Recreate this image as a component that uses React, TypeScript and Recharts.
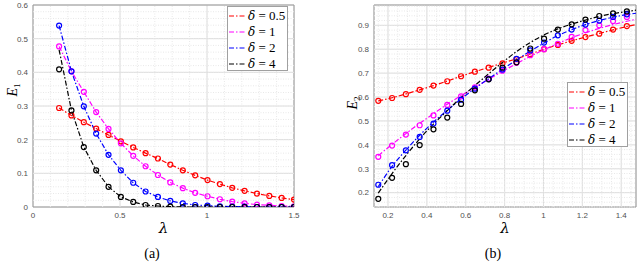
import React from 'react';
import { LineChart, Line, XAxis, YAxis, CartesianGrid, ReferenceLine, ReferenceArea } from 'recharts';

// lambda values of the simulated points (same grid in both panels)
const LAMBDA = [0.15, 0.221, 0.292, 0.363, 0.434, 0.505, 0.576, 0.647, 0.718, 0.789, 0.861, 0.932, 1.003, 1.074, 1.145, 1.216, 1.287, 1.358, 1.429, 1.5];

const DELTAS = ['0.5', '1', '2', '4'];
const COLORS = ['#ff0000', '#ff00ff', '#0000ff', '#000000'];

// panel (a): E1
const E1_PTS_05 = [0.294, 0.272, 0.252, 0.233, 0.214, 0.195, 0.177, 0.160, 0.144, 0.126, 0.109, 0.094, 0.080, 0.068, 0.057, 0.048, 0.040, 0.033, 0.027, 0.022];
const E1_PTS_1 = [0.477, 0.403, 0.342, 0.282, 0.232, 0.189, 0.152, 0.121, 0.095, 0.073, 0.056, 0.042, 0.032, 0.023, 0.016, 0.011, 0.007, 0.005, 0.003, 0.002];
const E1_PTS_2 = [0.539, 0.403, 0.299, 0.218, 0.155, 0.109, 0.072, 0.046, 0.030, 0.018, 0.011, 0.006, 0.004, 0.002, 0.001, 0.001, 0, 0, 0, 0];
const E1_PTS_4 = [0.409, 0.287, 0.178, 0.109, 0.060, 0.030, 0.015, 0.006, 0.003, 0.001, 0, 0, 0, 0, 0, 0, 0, 0, 0, 0];
const E1_FIT_05 = E1_PTS_05;
const E1_FIT_1 = E1_PTS_1;
const E1_FIT_2 = E1_PTS_2;
const E1_FIT_4 = [0.467, 0.287, 0.178, 0.109, 0.060, 0.030, 0.015, 0.006, 0.003, 0.001, 0, 0, 0, 0, 0, 0, 0, 0, 0, 0];

// panel (b): E2 (last simulated point lies outside the axes)
const E2_PTS_05 = [0.584, 0.596, 0.612, 0.630, 0.648, 0.666, 0.687, 0.706, 0.723, 0.741, 0.758, 0.779, 0.800, 0.818, 0.835, 0.851, 0.865, 0.882, 0.897, null];
const E2_PTS_1 = [0.350, 0.397, 0.443, 0.482, 0.523, 0.567, 0.603, 0.640, 0.677, 0.710, 0.743, 0.775, 0.800, 0.823, 0.852, 0.880, 0.900, 0.918, 0.935, null];
const E2_PTS_2 = [0.233, 0.315, 0.377, 0.433, 0.489, 0.543, 0.589, 0.635, 0.675, 0.715, 0.760, 0.795, 0.828, 0.858, 0.882, 0.903, 0.920, 0.935, 0.946, null];
const E2_PTS_4 = [0.174, 0.262, 0.319, 0.399, 0.465, 0.514, 0.571, 0.628, 0.674, 0.723, 0.745, 0.803, 0.844, 0.882, 0.904, 0.924, 0.939, 0.950, 0.958, null];
const E2_FIT_05 = [0.584, 0.597, 0.613, 0.630, 0.648, 0.667, 0.687, 0.706, 0.724, 0.742, 0.760, 0.780, 0.800, 0.818, 0.835, 0.851, 0.866, 0.881, 0.895, 0.907];
const E2_FIT_1 = [0.355, 0.402, 0.447, 0.490, 0.530, 0.570, 0.606, 0.640, 0.674, 0.707, 0.740, 0.770, 0.798, 0.824, 0.848, 0.869, 0.887, 0.903, 0.917, 0.929];
const E2_FIT_2 = [0.225, 0.310, 0.378, 0.440, 0.495, 0.545, 0.592, 0.636, 0.677, 0.716, 0.755, 0.792, 0.826, 0.857, 0.882, 0.903, 0.920, 0.934, 0.945, 0.953];
const E2_FIT_4 = [0.198, 0.280, 0.355, 0.425, 0.487, 0.543, 0.598, 0.648, 0.697, 0.745, 0.790, 0.828, 0.860, 0.885, 0.905, 0.922, 0.937, 0.949, 0.958, 0.966];

const A_TICKS_X = [0, 0.5, 1, 1.5];
const A_TICKS_Y = [0, 0.1, 0.2, 0.3, 0.4, 0.5, 0.6];
const B_TICKS_X = [0.2, 0.4, 0.6, 0.8, 1, 1.2, 1.4];
const B_TICKS_Y = [0.2, 0.3, 0.4, 0.5, 0.6, 0.7, 0.8, 0.9];

const SERIF = '"Liberation Serif", "DejaVu Serif", serif';
const GREEK = '"DejaVu Serif", "Liberation Serif", serif';
const SANS = '"Liberation Sans", Arial, sans-serif';
const DASH = '5 2 1.5 2';

// minor grid positions
function steps(from: number, to: number, step: number) {
    const out: number[] = [];
    for (let v = from; v <= to + 1e-9; v += step) out.push(Math.round(v * 1000) / 1000);
    return out;
}

function buildRows(fits: (number | null)[][], pts: (number | null)[][]) {
    return LAMBDA.map((x, i) => {
        const row: any = { x };
        fits.forEach((f, k) => (row['f' + k] = f[i]));
        pts.forEach((p, k) => (row['m' + k] = p[i]));
        return row;
    });
}

const dataA = buildRows([E1_FIT_05, E1_FIT_1, E1_FIT_2, E1_FIT_4], [E1_PTS_05, E1_PTS_1, E1_PTS_2, E1_PTS_4]);
const dataB = buildRows([E2_FIT_05, E2_FIT_1, E2_FIT_2, E2_FIT_4], [E2_PTS_05, E2_PTS_1, E2_PTS_2, E2_PTS_4]);

function LegendBox({ left, top }: { left: number; top: number }) {
    return (
        <div style={{
            position: 'absolute', left, top, width: 61, height: 65, background: 'white',
            border: '1px solid #a0a0a0', boxSizing: 'border-box', padding: '1px 0 0 1px',
        }}>
            {DELTAS.map((d, i) => (
                <div key={d} style={{ display: 'flex', alignItems: 'center', height: 16 }}>
                    <svg width={17} height={4} style={{ marginRight: 2 }}>
                        <line x1={0} y1={2} x2={17} y2={2} stroke={COLORS[i]} strokeWidth={1.2} strokeDasharray={DASH} />
                    </svg>
                    <span style={{ fontFamily: SERIF, fontSize: 13, color: '#000', whiteSpace: 'nowrap', lineHeight: '16px' }}>
                        <i style={{ fontFamily: GREEK, fontSize: 12 }}>δ</i> = {d}
                    </span>
                </div>
            ))}
        </div>
    );
}

function Panel(props: any) {
    const { data, xDomain, yDomain, xTicks, yTicks, xMinor, yMinor, yWidth, right, sub, labelShift, curve, legend, caption, captionX } = props;
    const tick = { fontSize: 8, fill: '#505050', fontFamily: SANS };
    return (
        <div style={{ position: 'relative', width: 320, height: 263 }}>
            <LineChart width={320} height={263} data={data} margin={{ top: 5, right, bottom: 0, left: 0 }}>
                {xMinor.map((v: number) => (
                    <ReferenceLine key={'vx' + v} x={v} stroke="#e8e8e8" strokeDasharray="1 1.5" />
                ))}
                {yMinor.map((v: number) => (
                    <ReferenceLine key={'hy' + v} y={v} stroke="#e8e8e8" strokeDasharray="1 1.5" />
                ))}
                <CartesianGrid stroke="#dcdcdc" />
                <XAxis
                    type="number" dataKey="x" domain={xDomain} ticks={xTicks} interval={0} allowDataOverflow
                    height={56} axisLine={false} tickLine={false} tickSize={3} tickMargin={2} tick={tick}
                    label={{
                        content: ({ viewBox }: any) => (
                            <text x={viewBox.x + viewBox.width / 2} y={viewBox.y + 26} textAnchor="middle"
                                fontFamily={GREEK} fontStyle="italic" fontSize={15} fill="#000">λ</text>
                        ),
                    }}
                />
                <YAxis
                    type="number" domain={yDomain} ticks={yTicks} interval={0} allowDataOverflow
                    width={yWidth} axisLine={false} tickLine={false} tickSize={3} tickMargin={2} tick={tick}
                    label={{
                        content: ({ viewBox }: any) => {
                            const cx = viewBox.x + labelShift[0];
                            const cy = viewBox.y + viewBox.height / 2 + labelShift[1];
                            return (
                                <text x={cx} y={cy} transform={`rotate(-90, ${cx}, ${cy})`} textAnchor="middle"
                                    fontFamily={SERIF} fontSize={14} fill="#000">
                                    <tspan fontStyle="italic">E</tspan>
                                    <tspan dy={3} fontSize={9}>{sub}</tspan>
                                </text>
                            );
                        },
                    }}
                />
                <ReferenceArea x1={xDomain[0]} x2={xDomain[1]} y1={yDomain[0]} y2={yDomain[1]}
                    fill="none" stroke="#9a9a9a" strokeWidth={1} ifOverflow="visible" />
                {DELTAS.map((d, i) => (
                    <Line key={'f' + d} dataKey={'f' + i} type={curve} stroke={COLORS[i]} strokeWidth={1.2}
                        strokeDasharray={DASH} dot={false} activeDot={false} isAnimationActive={false} />
                ))}
                {DELTAS.map((d, i) => (
                    <Line key={'m' + d} dataKey={'m' + i} stroke="none" activeDot={false} isAnimationActive={false}
                        dot={{ r: 2.5, stroke: COLORS[i], strokeWidth: 1.2, fill: 'none' }} />
                ))}
            </LineChart>
            <LegendBox left={legend[0]} top={legend[1]} />
            <div style={{
                position: 'absolute', left: captionX - 30, width: 60, top: 245, textAlign: 'center',
                fontFamily: SERIF, fontSize: 14, color: '#000', lineHeight: '18px',
            }}>{caption}</div>
        </div>
    );
}

export default function App() {
    return (
        <div style={{ position: 'absolute', left: 0, top: 0, width: 640, height: 263, background: 'white', display: 'flex' }}>
            <Panel
                data={dataA} xDomain={[0, 1.5]} yDomain={[0, 0.6]} xTicks={A_TICKS_X} yTicks={A_TICKS_Y}
                xMinor={steps(0.1, 1.4, 0.1)} yMinor={steps(0.02, 0.58, 0.02)}
                yWidth={33} right={26} sub="1" labelShift={[17, -16]} curve="linear"
                legend={[227, 6]} caption="(a)" captionX={152}
            />
            <Panel
                data={dataB} xDomain={[0.128, 1.476]} yDomain={[0.14, 0.985]} xTicks={B_TICKS_X} yTicks={B_TICKS_Y}
                xMinor={steps(0.15, 1.45, 0.05)} yMinor={steps(0.14, 0.98, 0.02)}
                yWidth={54} right={4} sub="2" labelShift={[37, -3]} curve="monotone"
                legend={[247, 82]} caption="(b)" captionX={173}
            />
        </div>
    );
}
